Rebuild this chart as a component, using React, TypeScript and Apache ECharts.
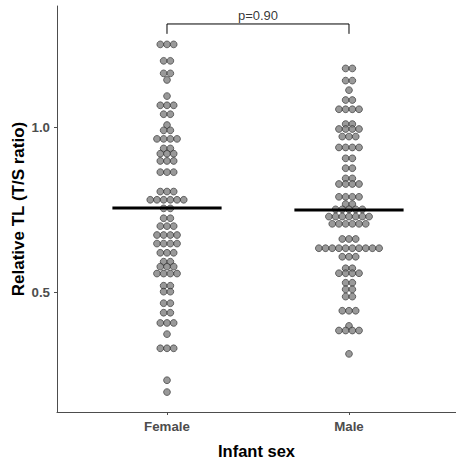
import React, { useEffect, useRef } from "react";
import * as echarts from "echarts";

const categories = ["Female", "Male"];

const femaleTL = [
  1.253, 1.253, 1.253,
  1.203, 1.203,
  1.165, 1.165,
  1.145,
  1.096,
  1.068, 1.068, 1.068,
  1.041, 1.041,
  1.008,
  0.992, 0.992,
  0.966, 0.966, 0.966, 0.966,
  0.937, 0.937,
  0.921, 0.921, 0.921,
  0.899, 0.899, 0.899,
  0.865, 0.865, 0.865,
  0.806, 0.806, 0.806,
  0.781, 0.781, 0.781, 0.781, 0.781, 0.781,
  0.755, 0.755,
  0.725, 0.725,
  0.701, 0.701, 0.701,
  0.674, 0.674, 0.674, 0.674,
  0.648, 0.648, 0.648, 0.648,
  0.62, 0.62, 0.62,
  0.593, 0.593,
  0.578, 0.578, 0.578,
  0.557, 0.557, 0.557, 0.557,
  0.52, 0.52,
  0.502, 0.502,
  0.467, 0.467,
  0.438, 0.438,
  0.407, 0.407, 0.407,
  0.373,
  0.33, 0.33, 0.33,
  0.233,
  0.197,
];

const maleTL = [
  1.18, 1.18,
  1.143, 1.143,
  1.114,
  1.084, 1.084,
  1.056, 1.056, 1.056, 1.056,
  1.011, 1.011,
  0.996, 0.996, 0.996, 0.996,
  0.973, 0.973, 0.973,
  0.94, 0.94, 0.94, 0.94,
  0.907, 0.907,
  0.877, 0.877,
  0.846, 0.846,
  0.829, 0.829, 0.829, 0.829,
  0.79, 0.79, 0.79, 0.79,
  0.768, 0.768,
  0.752, 0.752, 0.752, 0.752, 0.752,
  0.73, 0.73, 0.73, 0.73, 0.73, 0.73, 0.73,
  0.708, 0.708, 0.708, 0.708, 0.708, 0.708,
  0.662, 0.662, 0.662,
  0.634, 0.634, 0.634, 0.634, 0.634, 0.634, 0.634, 0.634, 0.634, 0.634,
  0.608, 0.608, 0.608,
  0.573, 0.573,
  0.558, 0.558, 0.558, 0.558,
  0.529, 0.529,
  0.509, 0.509,
  0.487, 0.487,
  0.444, 0.444, 0.444,
  0.398,
  0.384, 0.384, 0.384, 0.384,
  0.313,
];

const medians = [0.756, 0.75];
const pValueText = "p=0.90";
const bracketTop = 1.315;
const bracketLeg = 1.285;
const yTickValues = [0.5, 1.0];
const xTickValues = [1, 2];

const DOT_STEP = 0.0368; // horizontal stacking step in x-axis units

function stackDots(values: number[], center: number): number[][] {
  const counts = new Map<number, number>();
  values.forEach((v) => counts.set(v, (counts.get(v) || 0) + 1));
  const out: number[][] = [];
  counts.forEach((n, v) => {
    for (let i = 0; i < n; i++) {
      out.push([center + (i - (n - 1) / 2) * DOT_STEP, v]);
    }
  });
  return out;
}

const FONT = "'Liberation Sans', Arial, Helvetica, sans-serif";

export default function App() {
  const ref = useRef<HTMLDivElement>(null);
  useEffect(() => {
    if (!ref.current) return;
    const chart = echarts.init(ref.current, undefined, { renderer: "svg" });
    const dotStyle = {
      color: "#7f7f7f",
      borderColor: "#2b2b2b",
      borderWidth: 0.8,
    };
    const groups = [femaleTL, maleTL];
    const dotSeries = groups.map((vals, gi) => ({
      type: "scatter",
      data: stackDots(vals, gi + 1),
      symbol: "circle",
      symbolSize: 6.8,
      itemStyle: dotStyle,
      z: 2,
    }));
    const medianSeries = medians.map((m, gi) => ({
      type: "line",
      data: [
        [gi + 1 - 0.3, m],
        [gi + 1 + 0.3, m],
      ],
      symbol: "none",
      lineStyle: { color: "#000", width: 3 },
      z: 5,
    }));
    chart.setOption({
      animation: false,
      textStyle: { fontFamily: FONT },
      grid: { left: 57, right: 0, top: 6, bottom: 47, containLabel: false, outerBoundsMode: "none" },
      xAxis: {
        type: "value",
        min: 0.3956,
        max: 2.588,
        name: "Infant sex",
        nameLocation: "middle",
        nameGap: 30,
        nameMoveOverlap: false,
        nameTextStyle: { fontFamily: FONT, fontWeight: "bold", fontSize: 16.5, color: "#000" },
        splitLine: { show: false },
        axisLine: { show: true, lineStyle: { color: "#4d4d4d", width: 1 } },
        axisTick: { show: true, customValues: xTickValues, length: 3, lineStyle: { color: "#4d4d4d" } },
        axisLabel: {
          customValues: xTickValues,
          formatter: (v: number) => categories[Math.round(v) - 1] || "",
          fontFamily: FONT,
          fontWeight: "bold",
          fontSize: 13.3,
          color: "#4d4d4d",
          margin: 8,
        },
      },
      yAxis: {
        type: "value",
        min: 0.1365,
        max: 1.3696,
        name: "Relative TL (T/S ratio)",
        nameLocation: "middle",
        nameGap: 30,
        nameMoveOverlap: false,
        nameTextStyle: { fontFamily: FONT, fontWeight: "bold", fontSize: 17, color: "#000" },
        splitLine: { show: false },
        axisLine: { show: true, lineStyle: { color: "#4d4d4d", width: 1 } },
        axisTick: { show: true, customValues: yTickValues, length: 3, lineStyle: { color: "#4d4d4d" } },
        axisLabel: {
          customValues: yTickValues,
          formatter: (v: number) => v.toFixed(1),
          fontFamily: FONT,
          fontWeight: "bold",
          fontSize: 13.3,
          color: "#4d4d4d",
          margin: 7,
        },
      },
      series: [
        ...dotSeries,
        ...medianSeries,
        {
          type: "line",
          data: [
            [1, bracketLeg],
            [1, bracketTop],
            [2, bracketTop],
            [2, bracketLeg],
          ],
          symbol: "none",
          lineStyle: { color: "#000", width: 1 },
          z: 4,
        },
        {
          type: "scatter",
          data: [[1.5, bracketTop]],
          symbolSize: 0,
          itemStyle: { color: "#000" },
          label: {
            show: true,
            position: "top",
            distance: 2,
            formatter: pValueText,
            fontFamily: FONT,
            fontSize: 13,
            color: "#000",
          },
          z: 4,
        },
      ],
    });
    return () => chart.dispose();
  }, []);
  return (
    <div
      ref={ref}
      style={{ position: "fixed", left: 0, top: 0, width: 456, height: 459, background: "#fff" }}
    />
  );
}
